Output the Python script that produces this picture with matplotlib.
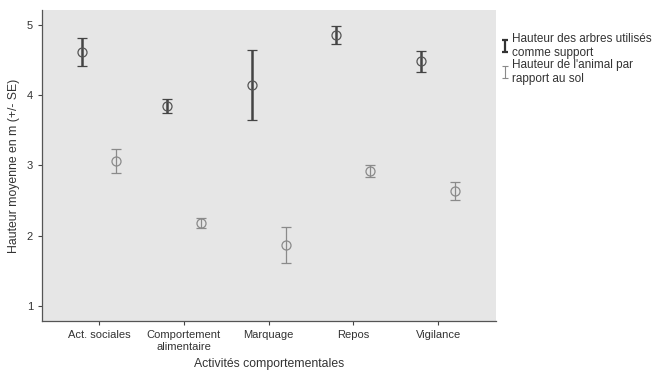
import numpy as np
import matplotlib
matplotlib.use("Agg")
import matplotlib.pyplot as plt
from matplotlib.lines import Line2D
from matplotlib.path import Path

plt.rcParams['font.family'] = ['Liberation Sans', 'DejaVu Sans']

# activités et moyennes (+/- SE)
activites = ["Act. sociales", "Comportement\nalimentaire", "Marquage", "Repos", "Vigilance"]
arbres_moy = [4.61, 3.84, 4.14, 4.86, 4.48]
arbres_se = [0.20, 0.10, 0.50, 0.13, 0.15]
animal_moy = [3.06, 2.18, 1.87, 2.92, 2.64]
animal_se = [0.17, 0.07, 0.25, 0.08, 0.13]
yticks = [1, 2, 3, 4, 5]

fig = plt.figure(figsize=(6.56, 3.74), dpi=100)
ax = fig.add_axes([0.064, 0.142, 0.692, 0.831])
ax.set_facecolor("#e6e6e6")

x = np.arange(len(activites))
ax.errorbar(x - 0.2, arbres_moy, yerr=arbres_se, fmt='o', mfc='none', mec='#555555',
            ms=6.5, mew=0.9, ecolor='#444444', elinewidth=1.8, capsize=3.6, capthick=1.8)
ax.errorbar(x + 0.2, animal_moy, yerr=animal_se, fmt='o', mfc='none', mec='#8a8a8a',
            ms=6.5, mew=0.9, ecolor='#8a8a8a', elinewidth=0.9, capsize=3.6, capthick=0.9)

ax.set_xlim(-0.67, 4.68)
ax.set_ylim(0.79, 5.21)
ax.set_xticks(x)
ax.set_xticklabels(activites, fontsize=8, color='#333333')
ax.set_yticks(yticks)
ax.set_yticklabels([str(v) for v in yticks], fontsize=8, color='#333333')
ax.tick_params(length=3, width=0.8, colors='#444444', labelcolor='#333333')
for s in ['top', 'right']:
    ax.spines[s].set_visible(False)
for s in ['left', 'bottom']:
    ax.spines[s].set_color('#555555')
    ax.spines[s].set_linewidth(0.9)

ax.set_xlabel("Activités comportementales", fontsize=8.8, color='#333333', labelpad=5)
ax.set_ylabel("Hauteur moyenne en m (+/- SE)", fontsize=8.8, color='#333333', labelpad=5)

# petit symbole "I" pour la légende
barre = Path([(-0.6, 1), (0.6, 1), (0, 1), (0, -1), (-0.6, -1), (0.6, -1)],
             [Path.MOVETO, Path.LINETO, Path.MOVETO, Path.LINETO, Path.MOVETO, Path.LINETO])
handles = [
    Line2D([], [], ls='none', marker=barre, mfc='none', mec='#333333', mew=1.6, ms=8),
    Line2D([], [], ls='none', marker=barre, mfc='none', mec='#8a8a8a', mew=0.8, ms=8),
]
labels = ["Hauteur des arbres utilisés\ncomme support", "Hauteur de l'animal par\nrapport au sol"]
leg = fig.legend(handles, labels, loc='upper left', bbox_to_anchor=(0.756, 0.925), frameon=False,
                 fontsize=8.5, handlelength=0.8, handletextpad=0.2, labelspacing=0.05,
                 labelcolor='#333333', borderaxespad=0)

fig.savefig("out.png", dpi=100)
